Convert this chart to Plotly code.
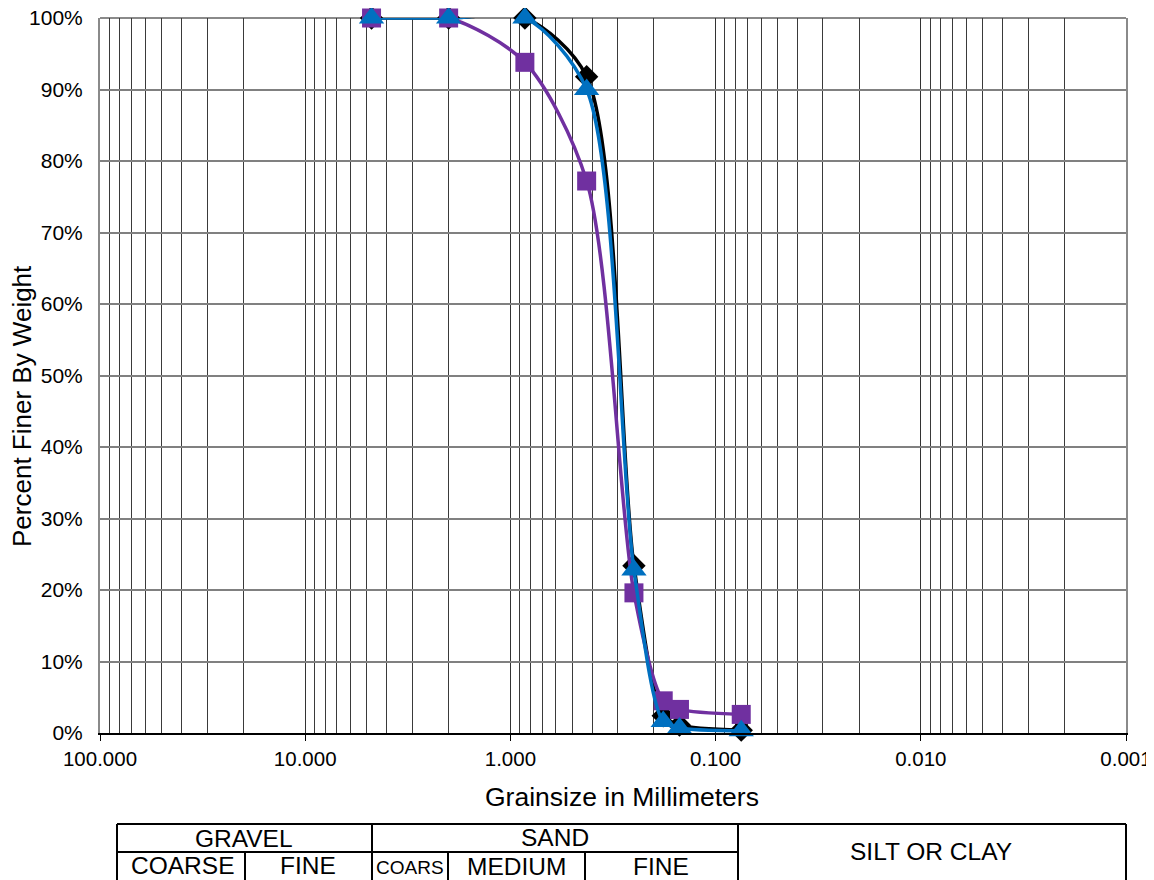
import plotly.graph_objects as go

# Sieve sizes (mm)
grain_mm = [4.75, 2.0, 0.85, 0.425, 0.25, 0.18, 0.15, 0.075]
# Percent finer by weight for each sample
sample_black = [100, 100, 100, 91.8, 23.4, 2.4, 1.1, 0.4]
sample_purple = [100, 100, 93.8, 77.2, 19.6, 4.5, 3.3, 2.6]
sample_blue = [100, 100, 100, 90.0, 22.8, 1.6, 0.7, 0.3]

x_major = [100, 10, 1, 0.1, 0.01, 0.001]
x_major_text = ["100.000", "10.000", "1.000", "0.100", "0.010", "0.001"]
x_minor = [m * d for d in [10, 1, 0.1, 0.01, 0.001] for m in range(2, 10)]
y_ticks = list(range(0, 101, 10))
y_ticktext = [f"{v}%" for v in y_ticks]

FONT = "Liberation Sans, Arial, Helvetica, sans-serif"

fig = go.Figure()

series = [
    (sample_black, "#000000", "diamond", 18),
    (sample_purple, "#7030A0", "square", 19),
    (sample_blue, "#0070C0", "triangle-up", 22),
]
for vals, color, sym, sz in series:
    fig.add_trace(go.Scatter(
        x=grain_mm, y=vals, mode="lines+markers",
        line=dict(color=color, width=3.5, shape="spline", smoothing=0.8),
        marker=dict(symbol=sym, size=sz, color=color),
        cliponaxis=False, showlegend=False,
    ))

# page body has an 8px margin; compensate so the figure fills the window
OFF = 8
W, H = 1154 - OFF, 880 - OFF
L, R, T, B = 100 - OFF, 28, 18 - OFF, 147
pw = W - L - R
ph = H - T - B


def px(xp):
    return (xp - OFF - L) / pw


def py(yp):
    return (H - B - (yp - OFF)) / ph


fig.update_layout(
    width=W, height=H,
    margin=dict(l=L, r=R, t=T, b=B, autoexpand=False),
    paper_bgcolor="white", plot_bgcolor="white",
    font=dict(family=FONT, color="black"),
    showlegend=False,
)

fig.update_xaxes(
    type="log", range=[2, -3], autorange=False, automargin=False,
    tickmode="array", tickvals=x_major, ticktext=x_major_text,
    tickfont=dict(size=20.5, family=FONT), ticklabeloverflow="allow",
    ticks="outside", ticklen=6, tickcolor="black", tickwidth=1,
    showgrid=True, gridcolor="#333333", gridwidth=1,
    minor=dict(tickmode="array", tickvals=x_minor, showgrid=True,
               gridcolor="#3a3a3a", gridwidth=1, ticks=""),
    showline=True, linecolor="black", linewidth=2,
    zeroline=False,
)
fig.update_yaxes(
    range=[0, 100], autorange=False, automargin=False,
    tickmode="array", tickvals=y_ticks, ticktext=y_ticktext,
    tickfont=dict(size=21, family=FONT), ticklabeloverflow="allow",
    ticks="outside", ticklen=11, tickcolor="rgba(0,0,0,0)",
    showgrid=True, gridcolor="#808080", gridwidth=1.5,
    showline=True, linecolor="#8a8a8a", linewidth=2, mirror=True,
    zeroline=False,
)

shapes = []
# top border
shapes.append(dict(type="line", xref="paper", yref="paper", x0=0, x1=1, y0=1, y1=1,
                   line=dict(color="#8a8a8a", width=2), layer="below"))

# Classification table below the chart
tl, tr = px(117), px(1126)
ttop, tmid, tbot = py(824), py(852), py(884)
tbl_line = dict(color="black", width=2)
shapes.append(dict(type="line", xref="paper", yref="paper", x0=tl, x1=tr, y0=ttop, y1=ttop, line=tbl_line))
shapes.append(dict(type="line", xref="paper", yref="paper", x0=tl, x1=px(738), y0=tmid, y1=tmid, line=tbl_line))
for xv in [117, 372, 738, 1126]:
    shapes.append(dict(type="line", xref="paper", yref="paper", x0=px(xv), x1=px(xv), y0=ttop, y1=tbot, line=tbl_line))
for xv in [245, 448, 585]:
    shapes.append(dict(type="line", xref="paper", yref="paper", x0=px(xv), x1=px(xv), y0=tmid, y1=tbot, line=tbl_line))
fig.update_layout(shapes=shapes)

annotations = [
    dict(text="Grainsize in Millimeters", x=px(622), y=py(797), font=dict(size=26.5)),
    dict(text="Percent Finer By Weight", x=px(22), y=py(406), textangle=-90, font=dict(size=26)),
    dict(text="GRAVEL", x=px(244), y=py(838), font=dict(size=24.5)),
    dict(text="SAND", x=px(555), y=py(837), font=dict(size=24.5)),
    dict(text="SILT OR CLAY", x=px(931), y=py(852), font=dict(size=24.5)),
    dict(text="COARSE", x=px(182), y=py(865), font=dict(size=24.5)),
    dict(text="FINE", x=px(308), y=py(865), font=dict(size=24.5)),
    dict(text="COARS", x=px(410), y=py(867), font=dict(size=19)),
    dict(text="MEDIUM", x=px(516), y=py(866), font=dict(size=24.5)),
    dict(text="FINE", x=px(661), y=py(866), font=dict(size=24.5)),
]
for a in annotations:
    a.update(xref="paper", yref="paper", showarrow=False, xanchor="center", yanchor="middle")
    a["font"].update(family=FONT, color="black")
fig.update_layout(annotations=annotations)

fig.write_html("out.html")
